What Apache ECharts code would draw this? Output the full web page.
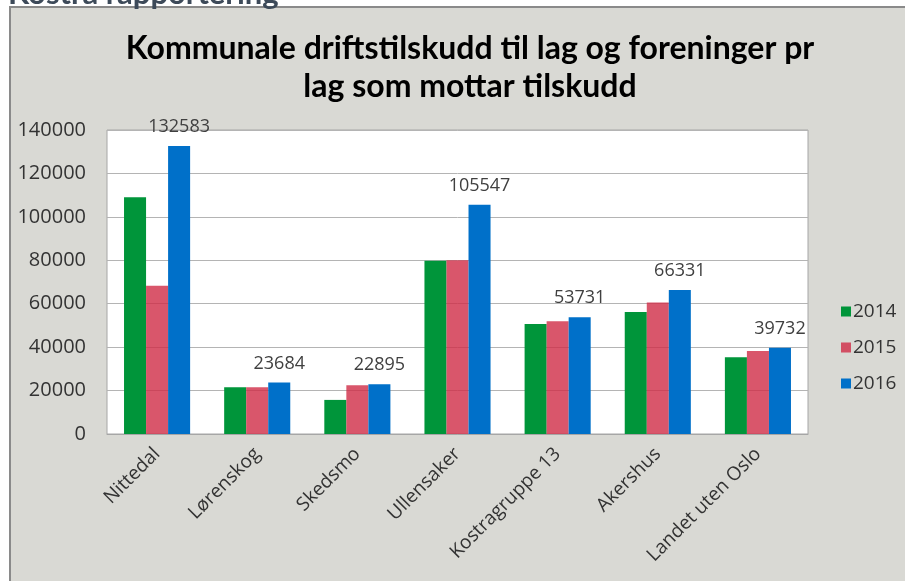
<!DOCTYPE html>
<html>
<head>
<meta charset="utf-8">
<script src="https://cdn.jsdelivr.net/npm/echarts@6/dist/echarts.min.js"></script>
<style>
  html, body { margin: 0; padding: 0; background: #fff; }
  #chart { width: 905px; height: 581px; }
</style>
</head>
<body>
<div id="chart"></div>
<script>
// data
var categories = ['Nittedal', 'Lørenskog', 'Skedsmo', 'Ullensaker', 'Kostragruppe 13', 'Akershus', 'Landet uten Oslo'];
var years = ['2014', '2015', '2016'];
var values2014 = [109000, 21500, 15700, 79800, 50700, 56200, 35300];
var values2015 = [68300, 21500, 22400, 80000, 51900, 60600, 38200];
var values2016 = [132583, 23684, 22895, 105547, 53731, 66331, 39732];
var yTicks = { min: 0, max: 140000, interval: 20000 };

var titleFont = 'Lato, sans-serif';
var font = '"Open Sans", sans-serif';

var chart = echarts.init(document.getElementById('chart'));

var option = {
    backgroundColor: '#fff',
    animation: false,
    textStyle: { fontFamily: font },
    graphic: [
        {
            type: 'rect',
            z: -10,
            shape: { x: 10, y: 7, width: 900, height: 580 },
            style: { fill: '#d9d9d4', stroke: '#8a8a8a', lineWidth: 2 }
        },
        {
            type: 'text',
            left: 8,
            top: -22,
            style: {
                text: 'Kostra rapportering',
                fill: '#3d4a59',
                font: 'bold 31px ' + titleFont
            }
        }
    ],
    title: {
        text: 'Kommunale driftstilskudd til lag og foreninger pr\nlag som mottar tilskudd',
        left: 465,
        textAlign: 'center',
        top: 25,
        textStyle: {
            fontFamily: titleFont,
            fontSize: 32,
            fontWeight: 'bold',
            color: '#000',
            lineHeight: 38
        }
    },
    legend: {
        orient: 'vertical',
        left: 836,
        top: 297,
        itemWidth: 10,
        itemHeight: 10,
        itemGap: 17,
        icon: 'rect',
        textStyle: { fontFamily: font, fontSize: 19, color: '#333', padding: [0, 0, 0, -3] },
        data: years
    },
    grid: {
        left: 107,
        right: 97,
        top: 130,
        bottom: 147,
        show: true,
        backgroundColor: '#fff',
        borderColor: '#a6a6a6',
        borderWidth: 1
    },
    xAxis: {
        type: 'category',
        data: categories,
        axisTick: { show: false },
        axisLine: { lineStyle: { color: '#a6a6a6' } },
        axisLabel: {
            interval: 0,
            rotate: 45,
            margin: 17,
            fontFamily: font,
            fontSize: 19,
            color: '#333'
        }
    },
    yAxis: {
        type: 'value',
        min: yTicks.min,
        max: yTicks.max,
        interval: yTicks.interval,
        axisLine: { show: false },
        axisTick: { show: false },
        axisLabel: {
            margin: 21,
            fontFamily: font,
            fontSize: 20,
            color: '#333',
            formatter: function (v) { return String(v); }
        },
        splitLine: { lineStyle: { color: '#b4b4b4', width: 1 } }
    },
    series: [
        {
            name: '2014',
            type: 'bar',
            data: values2014,
            barGap: '0%',
            barCategoryGap: '34%',
            itemStyle: { color: '#00953a' }
        },
        {
            name: '2015',
            type: 'bar',
            data: values2015,
            itemStyle: { color: '#cf2c46', opacity: 0.8 }
        },
        {
            name: '2016',
            type: 'bar',
            data: values2016,
            itemStyle: { color: '#0070c9' },
            label: {
                show: true,
                position: 'top',
                distance: 10,
                fontFamily: font,
                fontSize: 18,
                color: '#404040'
            }
        }
    ]
};

chart.setOption(option);
</script>
</body>
</html>
